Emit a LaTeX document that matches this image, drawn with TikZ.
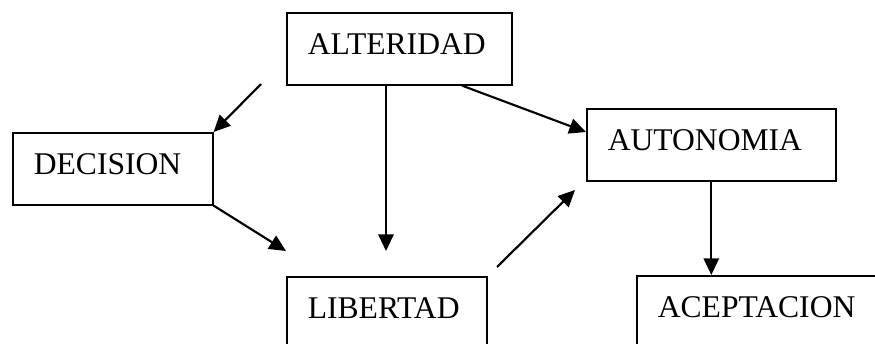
\documentclass[tikz,border=0pt]{standalone}
\usepackage{fontspec}
\setmainfont{Liberation Serif}
\usetikzlibrary{arrows.meta}

\tikzset{
  box/.style={draw, line width=1.2pt, anchor=north west, align=left,
    inner xsep=15.75pt, minimum height=54pt, text height=16pt, text depth=8pt,
    font=\fontsize{23.7pt}{28pt}\selectfont},
  arr/.style={line width=1.6pt, -{Triangle[length=12.5pt,width=11.5pt]}}
}

\begin{document}
\begin{tikzpicture}[x=0.75pt,y=-0.75pt]
          \useasboundingbox (0,0) rectangle (875,343);
          \clip (0,0) rectangle (875,343);

          \node[box, text width=137.25pt] (alt) at (286,12) {ALTERIDAD};
          \node[box, text width=118.5pt] (dec) at (12,132) {DECISION};
          \node[box, text width=155.25pt] (auto) at (586,108) {AUTONOMIA};
          \node[box, text width=118.5pt] (lib) at (286,276) {LIBERTAD};
          \node[box, text width=155.25pt] (acep) at (636,275) {ACEPTACION};

          \coordinate (p1) at (261,84);
          \coordinate (p2) at (386,251);
          \coordinate (p3) at (286,251);
          \coordinate (p4) at (497,267);
          \coordinate (p5) at (575,190);

          \draw[arr] (p1) -- (dec.north east);
          \draw[arr] (alt.south -| p2) -- (p2);
          \draw[arr] (alt.south -| 462,0) -- (auto.west |- 0,132);
          \draw[arr] (dec.south east) -- (p3);
          \draw[arr] (p4) -- (p5);
          \draw[arr] (auto.south) -- (auto.south |- acep.north);
        \end{tikzpicture}
\end{document}
